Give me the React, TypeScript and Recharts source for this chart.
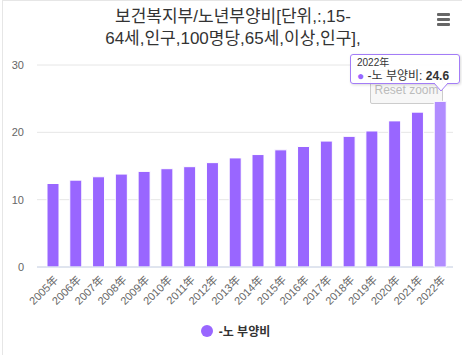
import React from 'react';
import { BarChart, Bar, XAxis, YAxis, CartesianGrid, Tooltip, Legend } from 'recharts';

const years = ['2005年','2006年','2007年','2008年','2009年','2010年','2011年','2012年','2013年','2014年','2015年','2016年','2017年','2018年','2019年','2020年','2021年','2022年'];
const values = [12.4, 12.9, 13.4, 13.8, 14.2, 14.6, 14.9, 15.5, 16.2, 16.7, 17.4, 17.9, 18.7, 19.4, 20.2, 21.7, 23.0, 24.6];
const yTicks = [0, 10, 20, 30];
const seriesName = '-노 부양비';
const titleLines = ['보건복지부/노년부양비[단위,:,15-', '64세,인구,100명당,65세,이상,인구],'];

const data = years.map((y, i) => ({ year: y, value: values[i] }));

const FONT = '"Liberation Sans", "Noto Sans CJK KR", sans-serif';

const TipContent = (props: any) => {
  const { active, payload, label } = props;
  if (!active || !payload || !payload.length) return null;
  return (
    <div style={{ position: 'relative', width: 110, height: 30, background: 'rgba(255,255,255,0.9)', border: '1px solid #a37cf7', borderRadius: 3, boxShadow: '1px 1px 3px rgba(0,0,0,0.15)', fontFamily: FONT, color: '#333', padding: '2px 6px', boxSizing: 'border-box' }}>
      <div style={{ fontSize: 10, lineHeight: '12px' }}>{label}</div>
      <div style={{ fontSize: 12, lineHeight: '14px', whiteSpace: 'nowrap' }}>
        <span style={{ color: '#9966ff' }}>● </span>
        {payload[0].name}: <b>{payload[0].value}</b>
      </div>
      <svg width={14} height={9} style={{ position: 'absolute', left: 83, top: 28 }}>
        <polygon points="0,0 14,0 7,8" fill="#ffffff" stroke="none" />
        <polyline points="0,0 7,8 14,0" fill="none" stroke="#a37cf7" strokeWidth={1} />
      </svg>
    </div>
  );
};

const LegendContent = () => (
  <div style={{ display: 'flex', justifyContent: 'center', alignItems: 'center', fontFamily: FONT, fontSize: 12, fontWeight: 'bold', color: '#333', paddingLeft: 18, marginTop: -5 }}>
    <svg width={12} height={12} style={{ marginRight: 6 }}><circle cx={6} cy={6} r={6} fill="#9966ff" /></svg>
    <span>{seriesName}</span>
  </div>
);

export default function App() {
  return (
    <div style={{ position: 'absolute', left: 0, top: 0, width: 462, height: 355, background: '#fff', fontFamily: FONT, overflow: 'hidden' }}>
      <div style={{ position: 'absolute', left: 2, top: 0, width: 460, height: 355, borderLeft: '1px solid #e6e6e6', borderTop: '1px solid #e6e6e6' }} />
      <div style={{ position: 'absolute', left: 0, top: 6, width: 466, textAlign: 'center', fontSize: 17, lineHeight: '22px', color: '#333' }}>
        {titleLines.map((t, i) => <div key={i}>{t}</div>)}
      </div>
      <div style={{ position: 'absolute', left: 437, top: 13 }}>
        {[0, 1, 2].map(i => <div key={i} style={{ width: 13, height: 2.5, background: '#666', marginBottom: 2.5, borderRadius: 1 }} />)}
      </div>
      <div style={{ position: 'absolute', left: 370, top: 70, width: 73, height: 34, background: '#f7f7f7', border: '1px solid #cccccc', borderRadius: 2, boxSizing: 'border-box', color: '#bbb', fontSize: 12, textAlign: 'center', lineHeight: '38px' }}>Reset zoom</div>
      <div style={{ position: 'absolute', left: 0, top: 0 }}>
        <BarChart width={462} height={355} data={data} margin={{ top: 65, right: 9, left: 0, bottom: 0 }} barCategoryGap={6}>
          <CartesianGrid vertical={false} stroke="#e6e6e6" />
          <XAxis dataKey="year" interval={0} angle={-45} textAnchor="end" tickSize={0} tickMargin={8} height={60} padding={{ left: 5, right: 1 }} axisLine={{ stroke: '#ccd6eb' }} tickLine={false} tick={{ fontSize: 11, fill: '#666', fontFamily: FONT }} />
          <YAxis domain={[0, 30]} ticks={yTicks} width={37} tickSize={0} tickMargin={13} axisLine={false} tickLine={false} tick={{ fontSize: 11, fill: '#666', fontFamily: FONT }} />
          <Tooltip active defaultIndex={17} cursor={false} position={{ x: 350, y: 54 }} content={<TipContent />} isAnimationActive={false} wrapperStyle={{ zIndex: 10 }} />
          <Legend verticalAlign="bottom" height={28} content={<LegendContent />} />
          <Bar dataKey="value" name={seriesName} fill="#9966ff" stroke="#ffffff" strokeWidth={1} barSize={12} isAnimationActive={false} activeBar={{ fill: '#b18cff', stroke: '#ffffff' }} />
        </BarChart>
      </div>
    </div>
  );
}
